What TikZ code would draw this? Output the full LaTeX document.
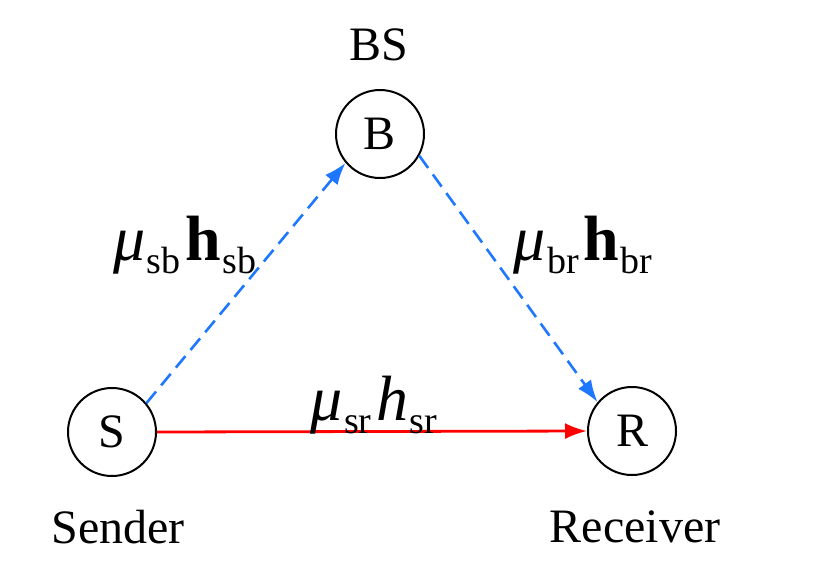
\documentclass[tikz,border=0pt]{standalone}
\usepackage{fontspec}
\setmainfont{Liberation Serif}
\usetikzlibrary{arrows.meta}
\definecolor{linkblue}{RGB}{30,120,255}
\definecolor{linkred}{RGB}{255,0,0}
\newcommand{\chanlbl}[3]{{\fontsize{64}{64}\selectfont\textit{μ}}\kern1pt\raisebox{-13pt}{\fontsize{38}{38}\selectfont #1}\kern5pt{\fontsize{64}{64}\selectfont #3}\kern1pt\raisebox{-13pt}{\fontsize{38}{38}\selectfont #1}}
\begin{document}
\begin{tikzpicture}[x=1pt,y=-1pt,
  nodebox/.style={circle,draw,line width=2pt,minimum size=88pt,inner sep=0pt,font=\fontsize{48}{48}\selectfont},
  tag/.style={font=\fontsize{48}{48}\selectfont,inner sep=0pt},
  chan/.style={inner sep=0pt},
  tip/.style={-{Latex[length=22pt,width=16pt]}},
  bluelink/.style={tip,draw=linkblue,line width=2.6pt,dash pattern=on 15pt off 8pt},
  redlink/.style={tip,draw=linkred,line width=2.8pt}]
\useasboundingbox (0,0) rectangle (829,571);
\node[nodebox] (B) at (380,134) {B};
\node[nodebox] (S) at (112,432) {S};
\node[nodebox] (R) at (632,431) {R};
\node[tag] (bs) at (379,45) {BS};
\node[tag] (snd) at (118,527) {Sender};
\node[tag] (rcv) at (635,527) {Receiver};
\draw[bluelink] (S.40) -- (B.220);
\draw[bluelink] (B.-29) -- (R.140);
\draw[redlink] (S.0) -- (R.180);
\node[chan] (lsb) at (185,245) {\chanlbl{sb}{sb}{\textbf{h}}};
\node[chan] (lbr) at (583,245) {\chanlbl{br}{br}{\textbf{h}}};
\node[chan] (lsr) at (374,405) {\chanlbl{sr}{sr}{\textit{h}}};
\end{tikzpicture}
\end{document}
